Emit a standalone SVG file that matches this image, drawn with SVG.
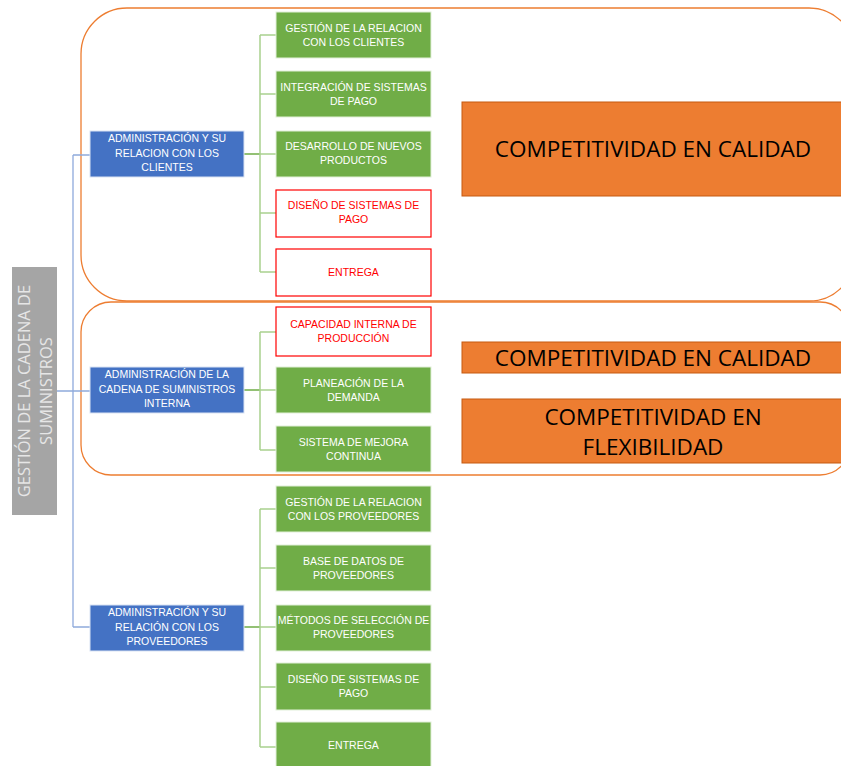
<svg xmlns="http://www.w3.org/2000/svg" width="841" height="766" viewBox="0 0 841 766">
<style>
.grp{fill:none;stroke:#ed7d31;stroke-width:1.3}
.blue{fill:#4472c4;stroke:#dae3f3;stroke-width:1}
.green{fill:#70ad47;stroke:#e2f0d9;stroke-width:1}
.red{fill:#ffffff;stroke:#ff0000;stroke-width:1.2}
.orange{fill:#ed7d31;stroke:#c55a11;stroke-width:1}
.t{font-family:"Liberation Sans",Arial,sans-serif;font-size:10.5px;text-anchor:middle;fill:#ffffff}
.tr{fill:#ff0000}
.big{font-family:"Open Sans","Liberation Sans",sans-serif;font-size:22.5px;text-anchor:middle;fill:#000000}
.side{font-family:"Open Sans","Liberation Sans",sans-serif;font-size:16.5px;text-anchor:middle;fill:#e6e6e6}
.cb{fill:none;stroke:#8faadc;stroke-width:1.3}
.cg{fill:none;stroke:#a9d18e;stroke-width:1.5}
.cgd{fill:none;stroke:#70ad47;stroke-width:1.5}
</style>
<rect x="0" y="0" width="841" height="766" fill="#ffffff"/>
<g id="groups">
<rect class="grp" x="81" y="8" width="774" height="293" rx="46" ry="46"/>
<rect class="grp" x="81" y="302" width="769" height="173" rx="30" ry="30"/>
</g>
<g id="connectors">
<path class="cb" d="M57 391H73M73 155V627M73 155H90M73 391H90M73 627H90"/>
<path class="cgd" d="M244 154H260M244 390H260M244 627H260"/>
<path class="cg" d="M260 35V272M260 35H276M260 94H276M260 154H276M260 213H276M260 272H276"/>
<path class="cg" d="M260 332V450M260 332H276M260 390H276M260 450H276"/>
<path class="cg" d="M260 509V747M260 509H276M260 568H276M260 627H276M260 687H276M260 747H276"/>
</g>
<g id="root">
<rect x="12" y="267" width="45" height="248" fill="#a5a5a5"/>
<text class="side" transform="translate(34.5 391) rotate(-90)"><tspan x="0" y="-5">GESTIÓN DE LA CADENA DE</tspan><tspan x="0" y="17">SUMINISTROS</tspan></text>
</g>
<g id="admin-clientes">
<rect class="blue" x="90" y="131" width="154" height="46"/>
<text class="t"><tspan x="167" y="142">ADMINISTRACIÓN Y SU</tspan><tspan x="167" y="157">RELACION CON LOS</tspan><tspan x="167" y="171">CLIENTES</tspan></text>
</g>
<g id="admin-interna">
<rect class="blue" x="90" y="367" width="154" height="46"/>
<text class="t"><tspan x="167" y="378">ADMINISTRACIÓN DE LA</tspan><tspan x="167" y="393">CADENA DE SUMINISTROS</tspan><tspan x="167" y="407">INTERNA</tspan></text>
</g>
<g id="admin-proveedores">
<rect class="blue" x="90" y="605" width="154" height="46"/>
<text class="t"><tspan x="167" y="616">ADMINISTRACIÓN Y SU</tspan><tspan x="167" y="631">RELACIÓN CON LOS</tspan><tspan x="167" y="645">PROVEEDORES</tspan></text>
</g>
<g id="c1">
<rect class="green" x="276" y="12" width="155" height="46"/>
<text class="t"><tspan x="353.5" y="32">GESTIÓN DE LA RELACION</tspan><tspan x="353.5" y="46">CON LOS CLIENTES</tspan></text>
</g>
<g id="c2">
<rect class="green" x="276" y="71" width="155" height="46"/>
<text class="t"><tspan x="353.5" y="91">INTEGRACIÓN DE SISTEMAS</tspan><tspan x="353.5" y="105">DE PAGO</tspan></text>
</g>
<g id="c3">
<rect class="green" x="276" y="131" width="155" height="46"/>
<text class="t"><tspan x="353.5" y="150">DESARROLLO DE NUEVOS</tspan><tspan x="353.5" y="164">PRODUCTOS</tspan></text>
</g>
<g id="c4">
<rect class="red" x="276" y="190" width="155" height="47"/>
<text class="t tr"><tspan x="353.5" y="209">DISEÑO DE SISTEMAS DE</tspan><tspan x="353.5" y="223">PAGO</tspan></text>
</g>
<g id="c5">
<rect class="red" x="276" y="249" width="155" height="47"/>
<text class="t tr"><tspan x="353.5" y="276">ENTREGA</tspan></text>
</g>
<g id="i1">
<rect class="red" x="276" y="307" width="155" height="49"/>
<text class="t tr"><tspan x="353.5" y="328">CAPACIDAD INTERNA DE</tspan><tspan x="353.5" y="342">PRODUCCIÓN</tspan></text>
</g>
<g id="i2">
<rect class="green" x="276" y="367" width="155" height="46"/>
<text class="t"><tspan x="353.5" y="387">PLANEACIÓN DE LA</tspan><tspan x="353.5" y="401">DEMANDA</tspan></text>
</g>
<g id="i3">
<rect class="green" x="276" y="426" width="155" height="46"/>
<text class="t"><tspan x="353.5" y="446">SISTEMA DE MEJORA</tspan><tspan x="353.5" y="460">CONTINUA</tspan></text>
</g>
<g id="p1">
<rect class="green" x="276" y="486" width="155" height="46"/>
<text class="t"><tspan x="353.5" y="506">GESTIÓN DE LA RELACION</tspan><tspan x="353.5" y="520">CON LOS PROVEEDORES</tspan></text>
</g>
<g id="p2">
<rect class="green" x="276" y="545" width="155" height="46"/>
<text class="t"><tspan x="353.5" y="565">BASE DE DATOS DE</tspan><tspan x="353.5" y="579">PROVEEDORES</tspan></text>
</g>
<g id="p3">
<rect class="green" x="276" y="605" width="155" height="46"/>
<text class="t"><tspan x="353.5" y="624">MÉTODOS DE SELECCIÓN DE</tspan><tspan x="353.5" y="638">PROVEEDORES</tspan></text>
</g>
<g id="p4">
<rect class="green" x="276" y="663" width="155" height="47"/>
<text class="t"><tspan x="353.5" y="683">DISEÑO DE SISTEMAS DE</tspan><tspan x="353.5" y="697">PAGO</tspan></text>
</g>
<g id="p5">
<rect class="green" x="276" y="722" width="155" height="47"/>
<text class="t"><tspan x="353.5" y="749">ENTREGA</tspan></text>
</g>
<g id="o1">
<rect class="orange" x="462" y="102" width="390" height="94"/>
<text class="big" x="653" y="157">COMPETITIVIDAD EN CALIDAD</text>
</g>
<g id="o2">
<rect class="orange" x="462" y="342" width="390" height="31"/>
<text class="big" x="653" y="366">COMPETITIVIDAD EN CALIDAD</text>
</g>
<g id="o3">
<rect class="orange" x="462" y="399" width="390" height="64"/>
<text class="big"><tspan x="653" y="425">COMPETITIVIDAD EN</tspan><tspan x="653" y="455">FLEXIBILIDAD</tspan></text>
</g>
</svg>
